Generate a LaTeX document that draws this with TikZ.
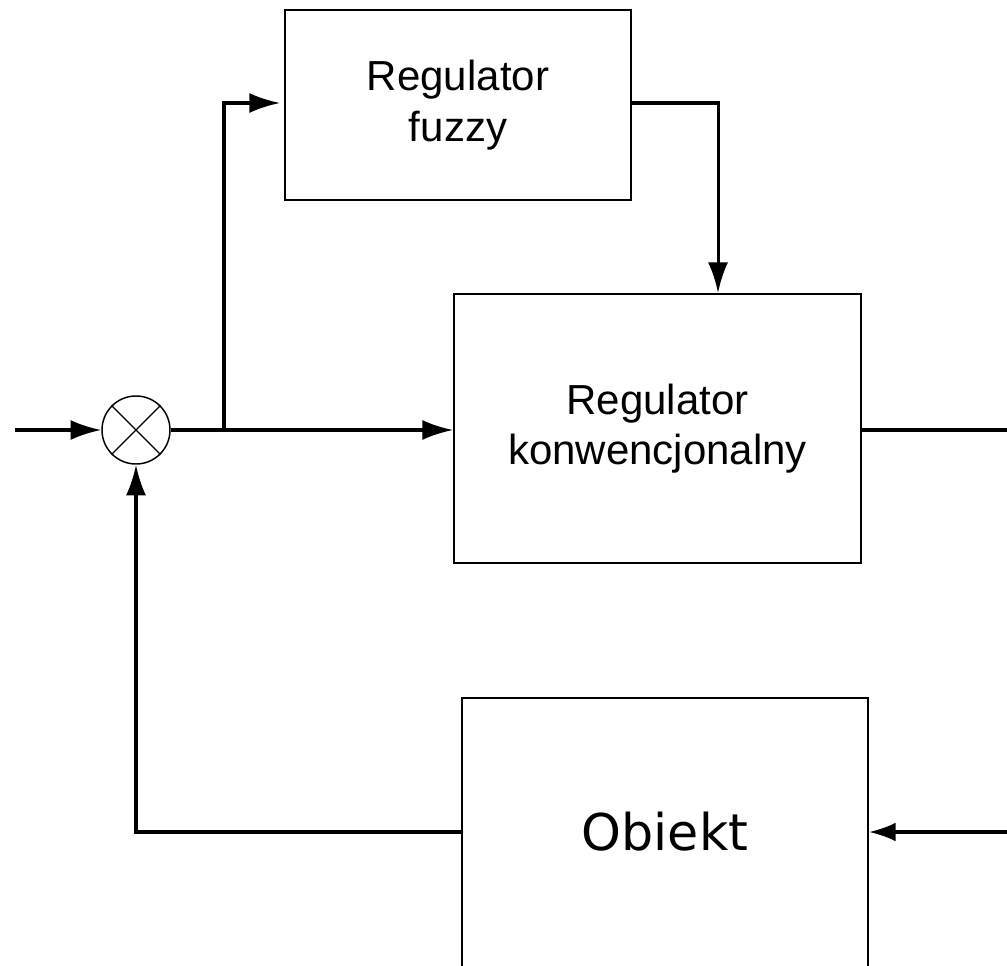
\documentclass[tikz,border=0pt]{standalone}
\usepackage{fontspec}
\setmainfont{Liberation Sans}
\newfontfamily\objfont{DejaVu Sans}
\usetikzlibrary{arrows.meta}
\begin{document}
\begin{tikzpicture}[x=0.75pt,y=-0.75pt,
  blockbox/.style={draw=black, line width=1.4pt, rectangle, inner sep=0pt, align=center,
     font=\fontsize{31.5}{38}\selectfont},
  sumnode/.style={draw=black, line width=1.1pt, circle, minimum size=51pt, inner sep=0pt},
  conn/.style={line width=2.3pt, line cap=butt},
  arr/.style={conn, -{Latex[length=23pt,width=15pt]}}
]
\useasboundingbox (0,0) rectangle (1007,966);
\clip (0,0) rectangle (1007,966);
\fill[white] (0,0) rectangle (1007,966);

% blocks
\node[blockbox, minimum width=259.5pt, minimum height=142.5pt] (fuzzy) at (458,105) {Regulator\\fuzzy};
\node[blockbox, minimum width=305.25pt, minimum height=201.75pt] (konw) at (657.5,428.5) {Regulator\\konwencjonalny};
\node[draw=black, line width=1.4pt, rectangle, inner sep=0pt, anchor=base,
      minimum width=304.5pt, text height=114pt, text depth=112.5pt,
      font=\objfont\fontsize{38}{44}\selectfont] (obj) at (665,850) {Obiekt};

% summing junction
\node[sumnode] (sum) at (136,430) {};
\draw[line width=0.8pt] (sum.north west) -- (sum.south east);
\draw[line width=0.8pt] (sum.north east) -- (sum.south west);

% free ends and branch point
\coordinate (in) at (15,430);
\coordinate (br) at (224,430);
\coordinate (out) at (1007,430);
\coordinate (rin) at (1007,832);

% connectors
\draw[arr] (in) -- (sum.west);
\draw[conn] (sum.east) -- (br);
\draw[arr] (br) -- (sum -| konw.west);
\draw[arr] (br) |- ([yshift=1.5pt,xshift=-3pt]fuzzy.west);
\draw[arr] ([yshift=1.5pt]fuzzy.east) -| ([xshift=45.4pt]konw.north);
\draw[conn] (sum -| konw.east) -- (out);
\draw[arr, -{Latex[length=20pt,width=14pt]}] (rin) -- (rin -| obj.east);
\draw[arr] (rin -| obj.west) -| (sum.south);
\end{tikzpicture}
\end{document}
